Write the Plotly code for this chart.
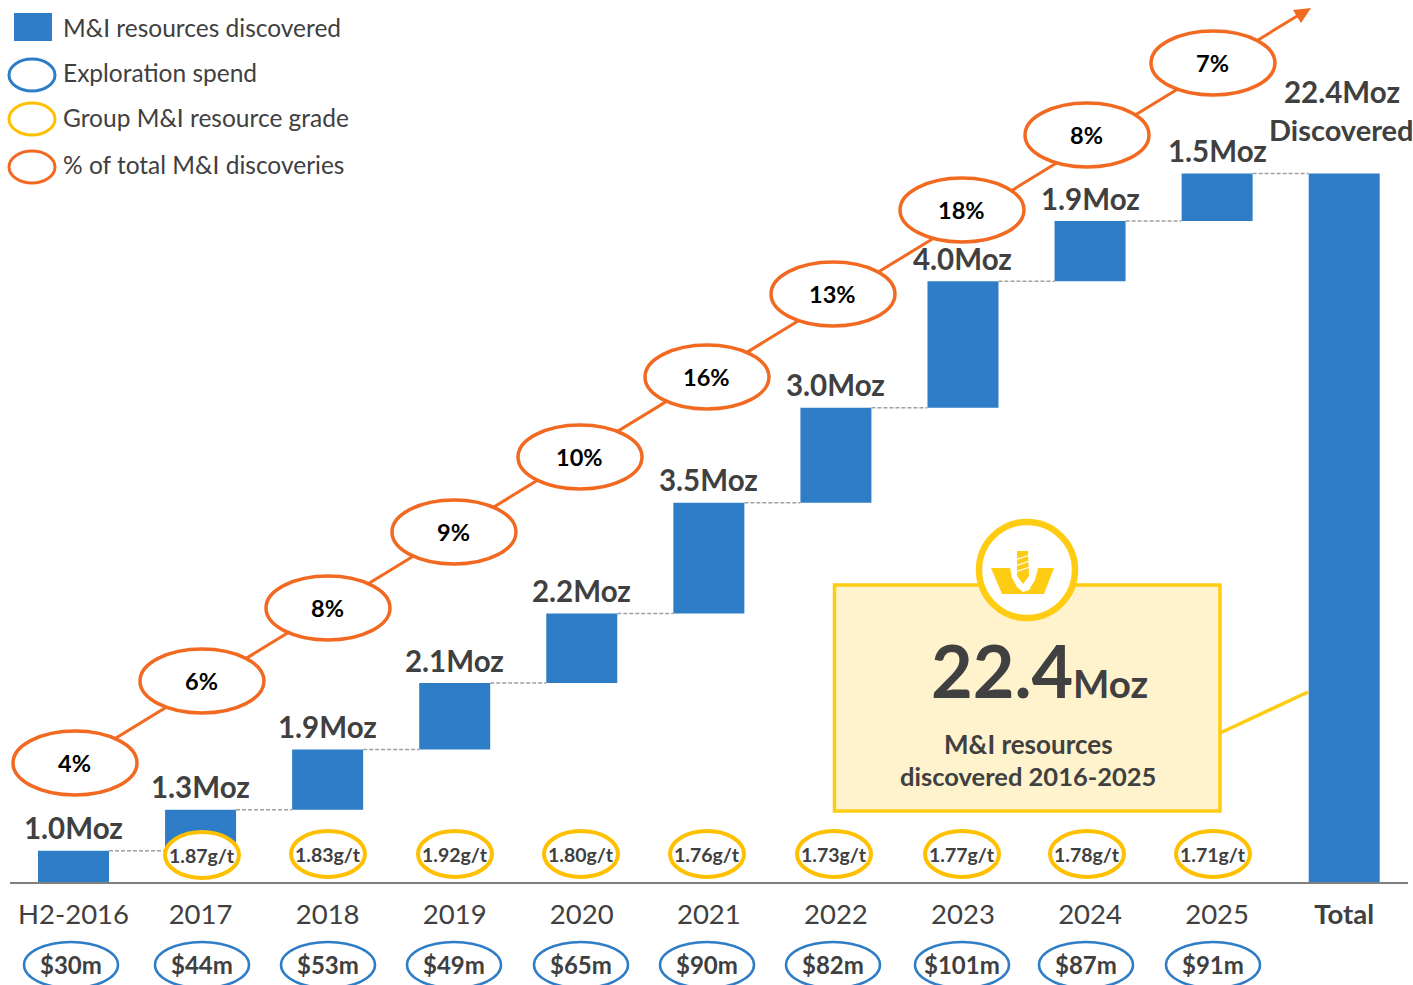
import numpy as np
import plotly.graph_objects as go

# ---- data ----
categories = ["H2-2016", "2017", "2018", "2019", "2020", "2021", "2022", "2023", "2024", "2025", "<b>Total</b>"]
discovered_moz = [1.0, 1.3, 1.9, 2.1, 2.2, 3.5, 3.0, 4.0, 1.9, 1.5]
total_moz = 22.4
exploration_spend = ["$30m", "$44m", "$53m", "$49m", "$65m", "$90m", "$82m", "$101m", "$87m", "$91m"]
group_grade = ["1.87g/t", "1.83g/t", "1.92g/t", "1.80g/t", "1.76g/t", "1.73g/t", "1.77g/t", "1.78g/t", "1.71g/t"]
share_of_total = ["4%", "6%", "8%", "9%", "10%", "16%", "13%", "18%", "8%", "7%"]
legend_labels = ["M&I resources discovered", "Exploration spend", "Group M&I resource grade", "% of total M&I discoveries"]

# ---- layout constants (page pixels) ----
W, H = 1413, 985
BASE_PX, PX_PER_MOZ = 882.5, 31.65
X0_PX, STEP_PX = 73.5, 127.07
BLUE, ORANGE, GOLD, BOX_GOLD, BOX_FILL, INK, GRID = "#2E7DC6", "#F26A21", "#FFC000", "#FFCC14", "#FFF3CE", "#404040", "#7F7F7F"
FONT = "Lato"
share_xy = [(75, 763), (202, 681), (328, 608), (454, 532), (580, 457), (707, 377), (833, 294), (962, 210), (1087, 135), (1213, 63)]
grade_xy = [(202, 855), (328, 854), (455, 854), (581, 854), (707, 854), (834, 854), (962, 854), (1087, 854), (1213, 854)]
spend_xy = [(71, 965), (202, 965), (328, 965), (454, 965), (581, 965), (707, 965), (833, 965), (962, 965), (1086, 965), (1213, 965)]

px = lambda x: x / W
py = lambda y: 1 - y / H

# ---- derived from data ----
values = discovered_moz + [total_moz]
bases = [0.0] + list(np.cumsum(discovered_moz)[:-1]) + [0.0]
tops = [b + v for b, v in zip(bases, values)]
idx = list(range(len(values)))
BW = 71 / STEP_PX

fig = go.Figure()
fig.add_bar(x=idx, y=values, base=bases, width=BW, marker=dict(color=BLUE, line=dict(width=0)), hoverinfo="skip")
cx, cy = [], []
for i in range(len(values) - 1):
    cx += [i + BW / 2, i + 1 - BW / 2, None]
    cy += [tops[i], tops[i], None]
fig.add_scatter(x=cx, y=cy, mode="lines", line=dict(color="#A0A0A0", width=1.5, dash="4px,2px"), hoverinfo="skip")

shapes, ann = [], []

def ell(x, y, rx, ry, color, w=3.0, fill="white"):
    shapes.append(dict(type="circle", xref="paper", yref="paper", x0=px(x - rx), x1=px(x + rx), y0=py(y + ry), y1=py(y - ry),
                       line=dict(color=color, width=w), fillcolor=fill, layer="above"))

def seg(x0, y0, x1, y1, color, w):
    shapes.append(dict(type="line", xref="paper", yref="paper", x0=px(x0), x1=px(x1), y0=py(y0), y1=py(y1),
                       line=dict(color=color, width=w), layer="above"))

def poly(pts, color):
    p = "M" + " L".join(f"{px(a):.5f},{py(b):.5f}" for a, b in pts) + " Z"
    shapes.append(dict(type="path", xref="paper", yref="paper", path=p, fillcolor=color, line=dict(width=0), layer="above"))

def txt(x, y, s, size, color=INK, bold=False, anchor="center"):
    ann.append(dict(xref="paper", yref="paper", x=px(x), y=py(y), text=f"<b>{s}</b>" if bold else s, showarrow=False,
                    xanchor=anchor, yanchor="middle", font=dict(family=FONT, size=size, color=color)))

# orange trend arrow
seg(75, 763, 1298, 15.5, ORANGE, 3)
poly([(1311, 8), (1293, 10), (1301, 23)], ORANGE)
for (x, y), s in zip(share_xy, share_of_total):
    ell(x, y, 62, 32, ORANGE, 3.5)
    txt(x - 0.5, y, s, 23.5, "#000000", True)
for (x, y), s in zip(grade_xy, group_grade):
    ell(x, y, 37, 23, GOLD, 4)
    txt(x, y, s, 19.5, INK, True)
for (x, y), s in zip(spend_xy, exploration_spend):
    ell(x, y, 47, 23, BLUE, 2.5)
    txt(x, y - 1, s, 24, INK, True)

# value labels
for i, (t, v) in enumerate(zip(tops[:-1], discovered_moz)):
    ann.append(dict(x=i, y=t, xref="x", yref="y", text=f"<b>{v:.1f}Moz</b>", showarrow=False, yanchor="middle", yshift=23,
                    font=dict(family=FONT, size=29.5, color=INK)))
txt(1342, 92, f"{total_moz}Moz", 29.5, INK, True)
txt(1341, 130, "Discovered", 29, INK, True)

# callout
seg(1220, 733, 1308, 692, BOX_GOLD, 3.5)
shapes.append(dict(type="rect", xref="paper", yref="paper", x0=px(834.5), x1=px(1220), y0=py(811), y1=py(585),
                   line=dict(color=BOX_GOLD, width=3.5), fillcolor=BOX_FILL, layer="above"))
ell(1027, 570, 48, 48, BOX_GOLD, 6.5)
poly([(991, 568), (1010, 568), (1012, 578), (1017, 587), (1023, 592), (1029, 590), (1035, 580), (1038, 568), (1054, 568), (1044, 594), (1002, 594)], BOX_GOLD)
poly([(1017, 551), (1028, 551), (1029, 576), (1023, 584), (1017, 576)], BOX_GOLD)
seg(1015, 560, 1030, 555, "white", 1.2)
seg(1015, 566, 1030, 561, "white", 1.2)
seg(1015, 572, 1030, 567, "white", 1.2)
txt(1002, 670, f"{total_moz}", 72, INK, True)
txt(1110, 683, "Moz", 38.5, INK, True)
txt(1028, 744, "M&I resources", 26, INK, True)
txt(1028, 776, "discovered 2016-2025", 25.5, INK, True)

# legend
shapes.append(dict(type="rect", xref="paper", yref="paper", x0=px(14), x1=px(52), y0=py(41), y1=py(13),
                   fillcolor=BLUE, line=dict(width=0), layer="above"))
ell(32, 75, 23, 16, BLUE, 3)
ell(32, 119, 23, 16, GOLD, 3)
ell(32, 167, 23, 16, ORANGE, 3)
for y, s in zip([28, 73, 117, 165], legend_labels):
    txt(61, y, s, 24.5, INK, False, "left")

y_min = -(H - BASE_PX) / PX_PER_MOZ
y_max = BASE_PX / PX_PER_MOZ
fig.update_layout(
    width=W, height=H, autosize=False, margin=dict(l=0, r=0, t=0, b=0), showlegend=False,
    paper_bgcolor="white", plot_bgcolor="white", shapes=shapes, annotations=ann,
    xaxis=dict(domain=[10 / W, 1408 / W], range=[(10 - X0_PX) / STEP_PX, (1408 - X0_PX) / STEP_PX],
               anchor="free", position=1 - BASE_PX / H, tickmode="array", tickvals=idx, ticktext=categories,
               showline=True, linecolor=GRID, linewidth=2, showgrid=False, zeroline=False, ticks="outside", ticklen=7,
               tickcolor="rgba(0,0,0,0)", tickfont=dict(family=FONT, size=27.5, color=INK)),
    yaxis=dict(domain=[0, 1], range=[y_min, y_max], visible=False),
)
fig.write_html("out.html", config={"displayModeBar": False},
               post_script="document.body.style.margin='0';document.body.style.overflow='hidden';")
